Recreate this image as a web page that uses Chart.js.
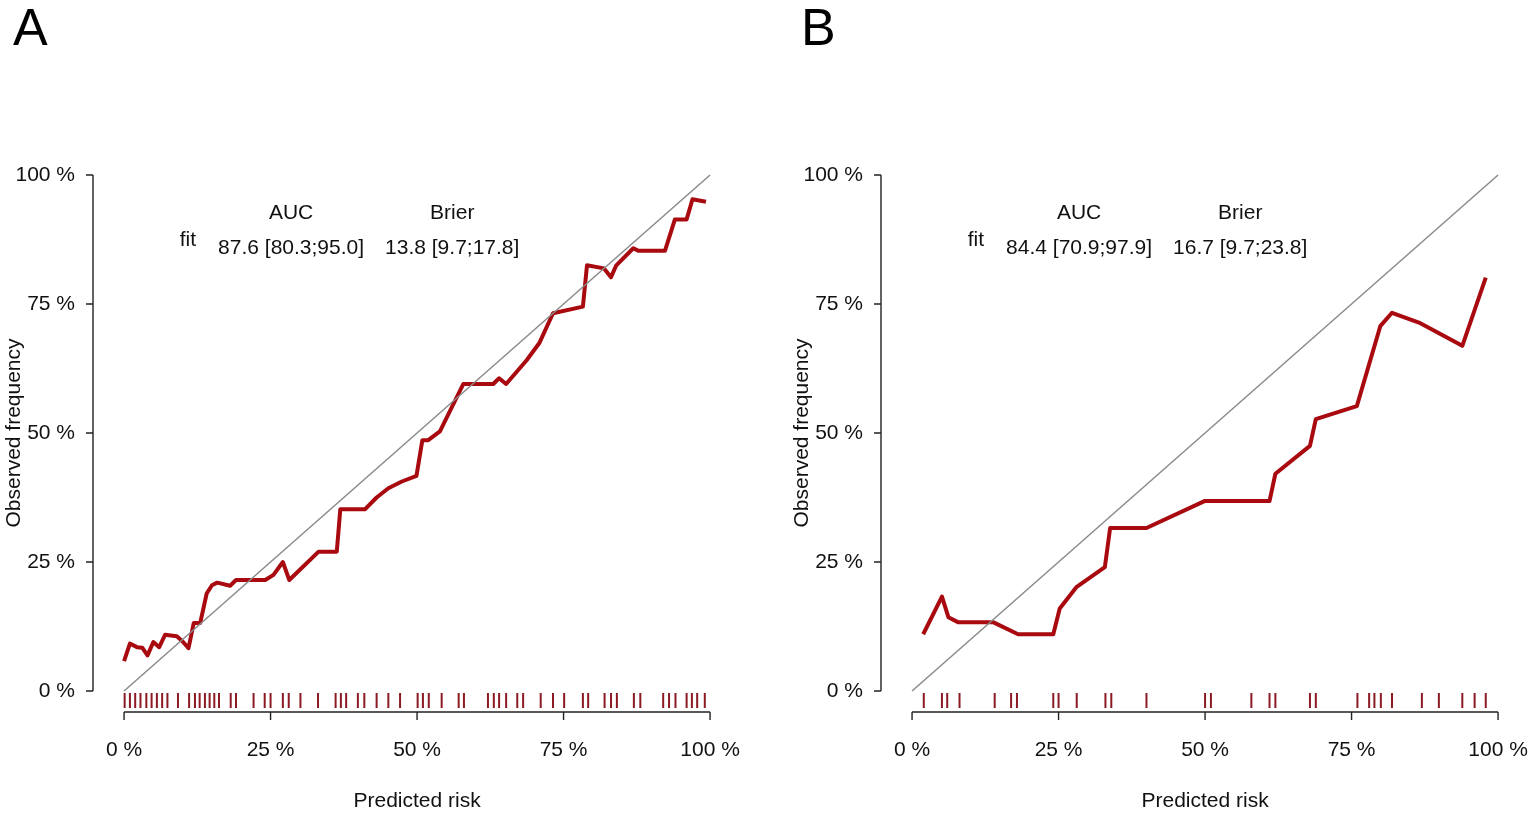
<!DOCTYPE html>
<html>
<head>
<meta charset="utf-8">
<script src="https://cdn.jsdelivr.net/npm/chart.js@4.4.1/dist/chart.umd.min.js"></script>
<style>
  html, body { margin: 0; padding: 0; background: #fff; }
  #wrap { position: relative; width: 1535px; height: 813px; overflow: hidden; }
  canvas { position: absolute; top: 0; }
  #panelA { left: 0; }
  #panelB { left: 788px; }
</style>
</head>
<body>
<div id="wrap">
  <canvas id="panelA" width="747" height="813"></canvas>
  <canvas id="panelB" width="747" height="813"></canvas>
</div>
<script>
// axis ticks (percent)
var tickValues = [0, 25, 50, 75, 100];

// panel A: calibration curve (predicted risk %, observed frequency %)
var riskA = [0, 1.0, 2.2, 3.1, 4.0, 5.0, 6.0, 7.0, 9.0, 10.0, 11.0, 11.9, 13.0, 14.1, 15.0, 15.9,
  18.1, 19.1, 24.1, 25.5, 27.1, 28.2, 33.2, 36.3, 36.9, 41.1, 43.1, 45.1, 47.4, 49.9, 50.9, 51.9,
  53.9, 57.9, 63.0, 64.0, 65.2, 68.7, 70.9, 73.2, 78.3, 79.0, 81.9, 83.1, 84.0, 86.9, 87.8, 92.3,
  94.0, 96.0, 97.0, 99.3];
var obsA = [5.8, 9.2, 8.5, 8.4, 6.9, 9.5, 8.5, 10.9, 10.6, 9.6, 8.3, 13.2, 13.2, 18.9, 20.5, 21.0,
  20.4, 21.5, 21.5, 22.5, 25.0, 21.5, 27.0, 27.0, 35.2, 35.2, 37.5, 39.3, 40.6, 41.7, 48.6, 48.6,
  50.3, 59.5, 59.5, 60.6, 59.5, 64.1, 67.5, 73.2, 74.5, 82.5, 81.9, 80.2, 82.5, 85.8, 85.3, 85.3,
  91.4, 91.4, 95.3, 94.8];
// panel A: rug of predicted risks
var rugA = [0.1, 1.0, 1.9, 2.8, 3.8, 4.7, 5.6, 6.5, 7.4, 9.2, 11.1, 12.1, 12.9, 13.8, 14.6, 15.4,
  16.2, 18.2, 19.1, 22.1, 24.0, 25.0, 27.1, 28.1, 30.1, 33.1, 36.1, 37.0, 37.9, 39.9, 41.0, 43.1,
  45.1, 47.1, 50.1, 51.0, 52.0, 54.2, 57.1, 58.0, 62.1, 63.1, 64.0, 65.2, 67.1, 68.1, 71.1, 73.2,
  75.1, 78.3, 79.2, 82.0, 83.1, 84.1, 87.0, 88.1, 92.0, 93.0, 94.1, 96.0, 96.9, 97.8, 99.1];

// panel B
var riskB = [1.9, 5.1, 6.2, 7.9, 13.9, 18.1, 24.1, 25.2, 28.1, 32.9, 33.8, 40.0, 49.9, 61.0, 62.0,
  67.9, 68.9, 75.9, 79.9, 81.9, 86.5, 93.9, 97.9];
var obsB = [11.0, 18.3, 14.3, 13.3, 13.3, 11.0, 11.0, 16.0, 20.2, 24.0, 31.6, 31.6, 36.8, 36.8, 42.1,
  47.5, 52.7, 55.2, 70.7, 73.3, 71.4, 66.9, 80.1];
var rugB = [2.0, 5.1, 6.0, 8.1, 14.1, 16.9, 17.9, 24.1, 25.0, 28.1, 33.0, 34.0, 40.0, 50.0, 51.0,
  57.9, 61.0, 62.0, 67.9, 68.9, 76.0, 78.0, 78.9, 80.0, 81.9, 87.0, 89.9, 93.9, 96.0, 97.9];

// legend text
var statNames = ["AUC", "Brier"];
var statsA = ["87.6 [80.3;95.0]", "13.8 [9.7;17.8]"];
var statsB = ["84.4 [70.9;97.9]", "16.7 [9.7;23.8]"];

var FONT = "'Liberation Sans', Arial, Helvetica, sans-serif";
var RED = '#A80A10';
var INK = '#111';

function toPoints(xs, ys) {
  var pts = [];
  for (var i = 0; i < xs.length; i++) {
    pts.push({x: xs[i], y: ys[i]});
  }
  return pts;
}

// R style axes, axis titles, panel letter and the AUC / Brier table
var rAxes = {
  id: 'rAxes',
  afterDraw: function(chart, args, opts) {
    var ctx = chart.ctx;
    var xs = chart.scales.x, ys = chart.scales.y;
    var a = chart.chartArea;
    ctx.save();
    ctx.strokeStyle = '#222';
    ctx.lineWidth = 1.4;
    ctx.beginPath();
    ctx.moveTo(a.left, ys.getPixelForValue(0));
    ctx.lineTo(a.left, ys.getPixelForValue(100));
    ctx.moveTo(xs.getPixelForValue(0), a.bottom);
    ctx.lineTo(xs.getPixelForValue(100), a.bottom);
    for (var i = 0; i < tickValues.length; i++) {
      var py = ys.getPixelForValue(tickValues[i]);
      ctx.moveTo(a.left - 7, py);
      ctx.lineTo(a.left, py);
      var px = xs.getPixelForValue(tickValues[i]);
      ctx.moveTo(px, a.bottom);
      ctx.lineTo(px, a.bottom + 8);
    }
    ctx.stroke();

    ctx.fillStyle = '#000';
    ctx.font = '52px ' + FONT;
    ctx.textAlign = 'left';
    ctx.textBaseline = 'alphabetic';
    ctx.fillText(opts.letter, 13, 45);

    ctx.fillStyle = INK;
    ctx.font = '21px ' + FONT;
    ctx.textBaseline = 'middle';
    ctx.textAlign = 'center';
    var cols = [28.5, 56];
    for (var j = 0; j < statNames.length; j++) {
      var cx = xs.getPixelForValue(cols[j]);
      ctx.fillText(statNames[j], cx, ys.getPixelForValue(92.6));
      ctx.fillText(opts.stats[j], cx, ys.getPixelForValue(85.8));
    }
    ctx.fillText('fit', xs.getPixelForValue(10.9), ys.getPixelForValue(87.3));

    // axis titles, centred on the 0-100 range like R does
    ctx.fillText('Predicted risk', xs.getPixelForValue(50), 801);
    ctx.translate(14, ys.getPixelForValue(50));
    ctx.rotate(-Math.PI / 2);
    ctx.fillText('Observed frequency', 0, 0);
    ctx.restore();
  }
};

function makePanel(id, letter, risk, obs, rug, stats) {
  var rugPts = [];
  for (var i = 0; i < rug.length; i++) {
    rugPts.push({x: rug[i], y: -1.84});
  }
  new Chart(document.getElementById(id), {
    type: 'scatter',
    data: {
      datasets: [
        {
          // reference diagonal
          data: [{x: 0, y: 0}, {x: 100, y: 100}],
          showLine: true,
          borderColor: '#8a8a8a',
          borderWidth: 1.5,
          pointRadius: 0,
          clip: false
        },
        {
          data: toPoints(risk, obs),
          showLine: true,
          borderColor: RED,
          borderWidth: 4,
          borderJoinStyle: 'round',
          pointRadius: 0,
          clip: false
        },
        {
          // rug
          data: rugPts,
          pointStyle: 'line',
          rotation: 90,
          pointRadius: 7.5,
          borderWidth: 2,
          borderColor: '#8B1A22',
          backgroundColor: '#8B1A22'
        }
      ]
    },
    options: {
      responsive: false,
      animation: false,
      events: [],
      layout: { padding: { left: 0, top: 175, right: 13.5, bottom: 0 } },
      plugins: {
        legend: { display: false },
        tooltip: { enabled: false },
        rAxes: { letter: letter, stats: stats }
      },
      scales: {
        x: {
          type: 'linear',
          min: -5.3,
          max: 104,
          afterBuildTicks: function(scale) {
            scale.ticks = tickValues.map(function(v) { return {value: v}; });
          },
          afterFit: function(scale) {
            scale.height = 101;
            scale.paddingLeft = 0;
            scale.paddingRight = 0;
          },
          grid: { display: false, drawTicks: false },
          border: { display: false },
          ticks: {
            padding: 26,
            maxRotation: 0,
            color: INK,
            font: { family: FONT, size: 21 },
            callback: function(v) { return v + ' %'; }
          }
        },
        y: {
          type: 'linear',
          min: -4.07,
          max: 100,
          afterBuildTicks: function(scale) {
            scale.ticks = tickValues.map(function(v) { return {value: v}; });
          },
          afterFit: function(scale) {
            scale.width = 93;
            scale.paddingTop = 0;
            scale.paddingBottom = 0;
          },
          grid: { display: false, drawTicks: false },
          border: { display: false },
          ticks: {
            padding: 18,
            color: INK,
            font: { family: FONT, size: 21 },
            callback: function(v) { return v + ' %'; }
          }
        }
      }
    },
    plugins: [rAxes]
  });
}

makePanel('panelA', 'A', riskA, obsA, rugA, statsA);
makePanel('panelB', 'B', riskB, obsB, rugB, statsB);
</script>
</body>
</html>
